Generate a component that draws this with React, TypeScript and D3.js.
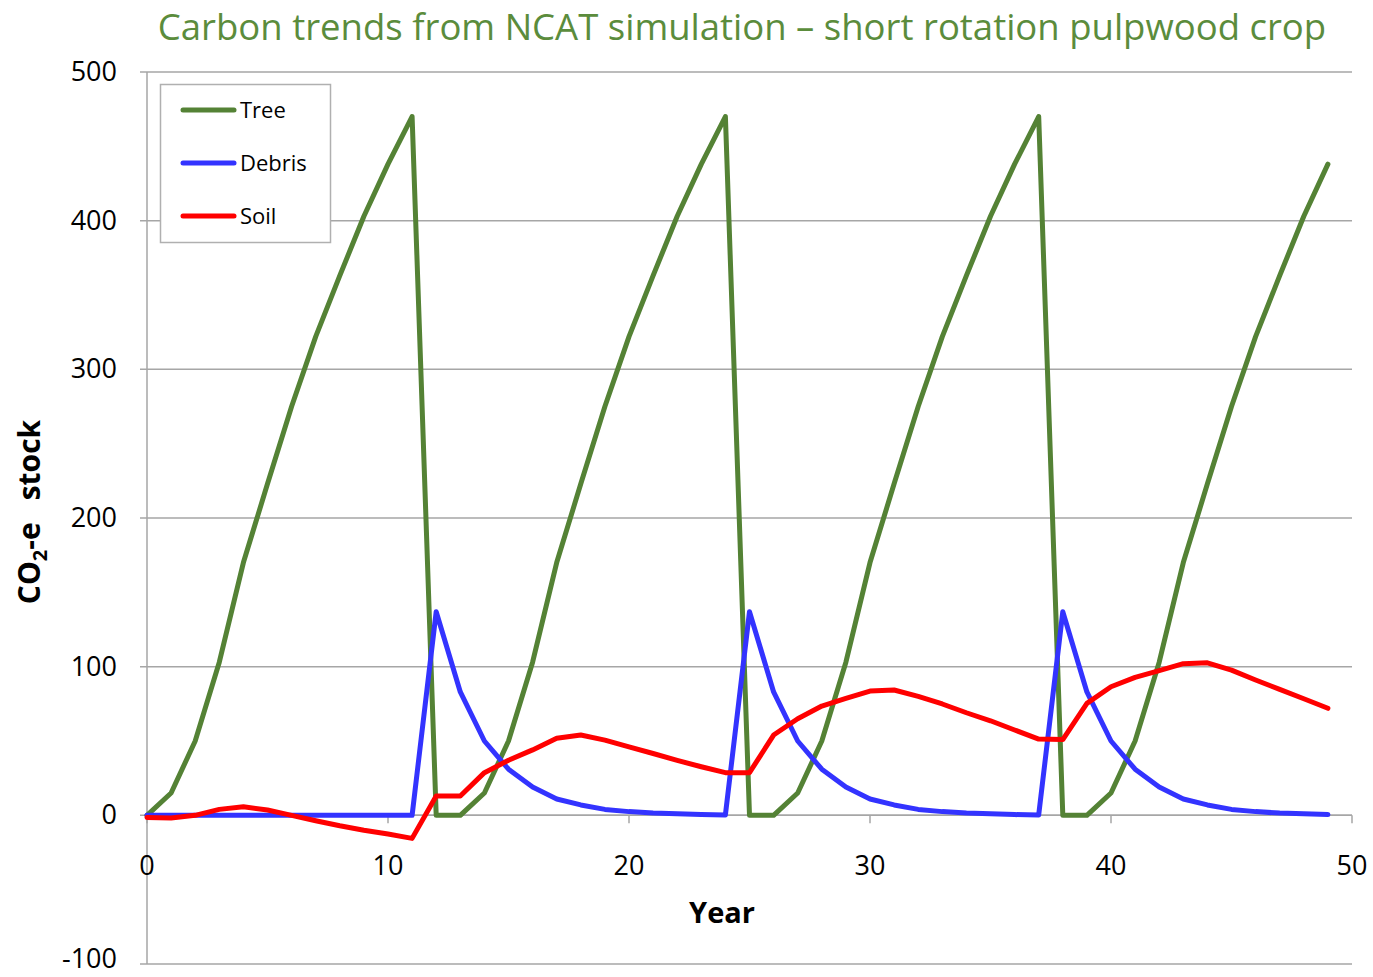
import React from 'react';
import * as d3 from 'd3';

const years = d3.range(0, 50);

const tree = [
  0, 15, 50, 103, 170, 223, 275, 322, 363, 403, 438, 470,
  0, 0, 15, 50, 103, 170, 223, 275, 322, 363, 403, 438, 470,
  0, 0, 15, 50, 103, 170, 223, 275, 322, 363, 403, 438, 470,
  0, 0, 15, 50, 103, 170, 223, 275, 322, 363, 403, 438,
];

const debris = [
  0, 0, 0, 0, 0, 0, 0, 0, 0, 0, 0, 0,
  137, 83, 50, 31, 19, 11, 7, 4, 2.5, 1.5, 1, 0.5, 0.3,
  137, 83, 50, 31, 19, 11, 7, 4, 2.5, 1.5, 1, 0.5, 0.3,
  137, 83, 50, 31, 19, 11, 7, 4, 2.5, 1.5, 1, 0.5,
];

const soil = [
  -1.4, -1.8, 0, 4, 5.8, 3.6, 0, -3.6, -7, -10, -12.6, -15.5,
  13, 13, 28.7, 37, 44, 51.8, 54, 50.6, 46, 41.6, 37, 32.7, 28.7,
  28.7, 54, 65, 73.5, 78.7, 83.6, 84.3, 80, 74.9, 69, 63.6, 57.4, 51.3,
  51, 75.3, 86.5, 92.8, 97.3, 102, 102.6, 97.7, 91, 84.7, 78.4, 72,
];

const seriesNames = ['Tree', 'Debris', 'Soil'];
const seriesColors = ['#548235', '#3333FF', '#FF0000'];
const seriesValues = [tree, debris, soil];

const xTicks = [0, 10, 20, 30, 40, 50];
const yTicks = [-100, 0, 100, 200, 300, 400, 500];

const App = () => {
  const width = 1373;
  const height = 977;
  const left = 147;
  const right = 1352;
  const top = 72;
  const bottom = 964;
  const font = '"Open Sans", sans-serif';
  const grid = '#A6A6A6';

  const x = d3.scaleLinear().domain([0, 50]).range([left, right]);
  const y = d3.scaleLinear().domain([-100, 500]).range([bottom, top]);

  const line = d3.line<number>()
    .x((_, i) => x(years[i]))
    .y((d) => y(d));

  return (
    <svg width={width} height={height} style={{ position: 'absolute', left: 0, top: 0 }}>
      <rect width={width} height={height} fill="white" />
      <text x={742} y={40} textAnchor="middle" fontFamily={font} fontSize={36.5} fill="#5B8C3C">
        Carbon trends from NCAT simulation – short rotation pulpwood crop
      </text>

      {yTicks.map((t) => (
        <g key={t}>
          <line x1={left - 7} x2={right} y1={y(t)} y2={y(t)} stroke={grid} strokeWidth={1.5} />
          <text x={117} y={y(t) + (t === -100 ? 4 : 9)} textAnchor="end" fontFamily={font} fontSize={27} fill="#000">
            {t}
          </text>
        </g>
      ))}
      <line x1={left} x2={left} y1={top} y2={bottom} stroke={grid} strokeWidth={1.5} />
      <line x1={left} x2={right} y1={y(0)} y2={y(0)} stroke={grid} strokeWidth={1.5} />
      {xTicks.map((t) => (
        <g key={t}>
          <line x1={x(t)} x2={x(t)} y1={y(0)} y2={y(0) + 8} stroke={grid} strokeWidth={1.5} />
          <text x={x(t)} y={875} textAnchor="middle" fontFamily={font} fontSize={27} fill="#000">
            {t}
          </text>
        </g>
      ))}

      {seriesValues.map((vals, k) => (
        <path
          key={seriesNames[k]}
          d={line(vals) || ''}
          fill="none"
          stroke={seriesColors[k]}
          strokeWidth={5}
          strokeLinejoin="round"
          strokeLinecap="round"
        />
      ))}

      <text x={722} y={923} textAnchor="middle" fontFamily={font} fontSize={29} fontWeight="bold" fill="#000">
        Year
      </text>
      <text
        transform="translate(40,512) rotate(-90)"
        textAnchor="middle"
        fontFamily={font}
        fontSize={30}
        fontWeight="bold"
        fill="#000"
      >
        CO<tspan fontSize={20} dy={7}>2</tspan><tspan dy={-7}>-e</tspan>
        <tspan dx={22}>stock</tspan>
      </text>

      <rect x={160.5} y={84.5} width={170} height={158} fill="white" stroke="#B0B0B0" strokeWidth={1.5} />
      {seriesNames.map((name, k) => (
        <g key={name}>
          <line x1={183} x2={234} y1={110 + k * 53} y2={110 + k * 53} stroke={seriesColors[k]} strokeWidth={5} strokeLinecap="round" />
          <text x={240} y={118 + k * 53} fontFamily={font} fontSize={22} fill="#000">
            {name}
          </text>
        </g>
      ))}
    </svg>
  );
};

export default App;
